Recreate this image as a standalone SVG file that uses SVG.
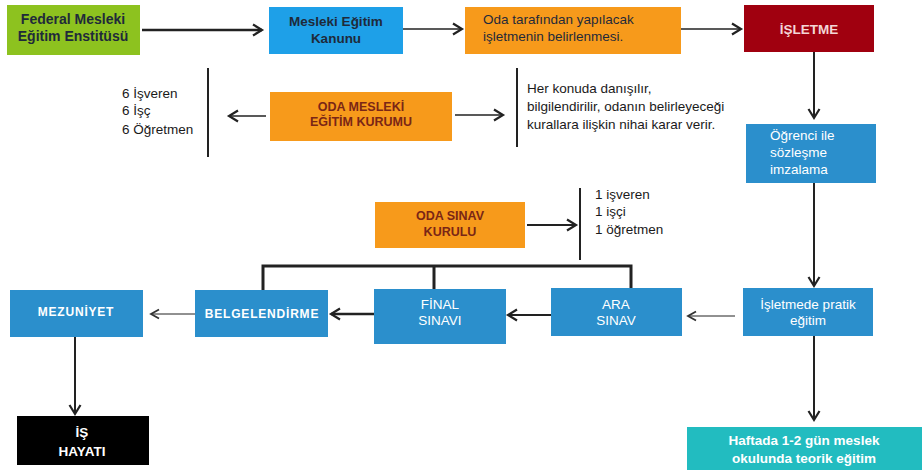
<svg xmlns="http://www.w3.org/2000/svg" width="923" height="476" viewBox="0 0 923 476">
<defs>
<marker id="ah" markerUnits="userSpaceOnUse" markerWidth="14" markerHeight="14" refX="10" refY="6" orient="auto" viewBox="0 0 14 12">
<path d="M1,0.5 L10,6 L1,11.5" fill="none" stroke="#222" stroke-width="2.2"/>
</marker>
<marker id="ahs" markerUnits="userSpaceOnUse" markerWidth="12" markerHeight="12" refX="9" refY="5" orient="auto" viewBox="0 0 12 10">
<path d="M1,0.5 L9,5 L1,9.5" fill="none" stroke="#333" stroke-width="1.8"/>
</marker>
</defs>
<style>
text{font-family:"Liberation Sans",Arial,sans-serif;}
.dk{fill:#1f2a3a;font-size:14px;font-weight:bold;}
.bx{fill:#1f2a3a;font-size:13.5px;}
.or{fill:#7a2616;font-size:12.5px;font-weight:bold;}
.wh{fill:#ffffff;font-size:13.5px;}
.whb{fill:#ffffff;font-size:12px;font-weight:bold;letter-spacing:0.8px;}
.pl{fill:#1a1a1a;font-size:13.5px;}
.c{text-anchor:middle;}
.ln{stroke:#222;fill:none;}
.blue{fill:#2b8fcc;}
.orange{fill:#f79a1b;}
</style>
<rect width="923" height="476" fill="#ffffff"/>

<g id="connectors">
<line class="ln" x1="142" y1="30" x2="262" y2="30" stroke-width="2.6" marker-end="url(#ah)"/>
<line class="ln" x1="403" y1="29" x2="462" y2="29" stroke-width="1.5" marker-end="url(#ah)"/>
<line class="ln" x1="681" y1="29" x2="741" y2="29" stroke-width="1.5" marker-end="url(#ah)"/>
<line class="ln" x1="814" y1="52" x2="814" y2="118" stroke-width="2" marker-end="url(#ah)"/>
<line class="ln" x1="814" y1="183" x2="814" y2="286" stroke-width="2" marker-end="url(#ah)"/>
<line class="ln" x1="814" y1="336" x2="814" y2="420" stroke-width="2" marker-end="url(#ah)"/>
<line class="ln" x1="735" y1="316" x2="688" y2="316" stroke-width="1" marker-end="url(#ahs)"/>
<line class="ln" x1="551" y1="315" x2="508" y2="315" stroke-width="2" marker-end="url(#ah)"/>
<line class="ln" x1="374" y1="314" x2="331" y2="314" stroke-width="2.6" marker-end="url(#ah)"/>
<line class="ln" x1="195" y1="314" x2="151" y2="314" stroke-width="1" marker-end="url(#ahs)"/>
<line class="ln" x1="75" y1="337" x2="75" y2="414" stroke-width="2" marker-end="url(#ah)"/>
<line class="ln" x1="266" y1="116" x2="229" y2="116" stroke-width="1.6" marker-end="url(#ah)"/>
<line class="ln" x1="455" y1="115" x2="503" y2="115" stroke-width="1.6" marker-end="url(#ah)"/>
<line class="ln" x1="527" y1="225" x2="576" y2="225" stroke-width="1.8" marker-end="url(#ah)"/>
<line class="ln" x1="208" y1="68" x2="208" y2="157" stroke="#444" stroke-width="2"/>
<line class="ln" x1="517" y1="68" x2="517" y2="147" stroke="#444" stroke-width="2"/>
<line class="ln" x1="580" y1="188" x2="580" y2="260" stroke="#444" stroke-width="2"/>
<path class="ln" d="M263,290 V266 H631 V289 M434,266 V289" stroke="#333" stroke-width="3"/>
</g>

<g id="federal">
<rect x="7" y="5" width="133" height="50" fill="#8dc21f"/>
<text class="dk c" x="73" y="24">Federal Mesleki</text>
<text class="dk c" x="73" y="41">Eğitim Enstitüsü</text>
</g>
<g id="kanun">
<rect x="269" y="7" width="134" height="47" fill="#1ea0e8"/>
<text class="bx c" x="336" y="26" font-weight="bold">Mesleki Eğitim</text>
<text class="bx c" x="336" y="43" font-weight="bold">Kanunu</text>
</g>
<g id="oda-taraf">
<rect x="465" y="7" width="216" height="47" class="orange"/>
<text class="bx" x="483" y="24" font-size="14">Oda tarafından yapılacak</text>
<text class="bx" x="483" y="41" font-size="14">işletmenin belirlenmesi.</text>
</g>
<g id="isletme">
<rect x="744" y="5" width="130" height="47" fill="#a0000f"/>
<text class="c" x="809" y="34" fill="#f3d6d6" font-size="13.5" font-weight="bold">İŞLETME</text>
</g>
<g id="ogrenci">
<rect x="746" y="124" width="130" height="59" class="blue"/>
<text class="wh" x="770" y="140">Öğrenci ile</text>
<text class="wh" x="770" y="157">sözleşme</text>
<text class="wh" x="770" y="174">imzalama</text>
</g>
<g id="oda-mesleki">
<rect x="270" y="92" width="182" height="49" class="orange"/>
<text class="or c" x="361" y="111">ODA MESLEKİ</text>
<text class="or c" x="361" y="126">EĞİTİM KURUMU</text>
</g>
<g id="uyeler6">
<text class="pl" x="122" y="98">6 İşveren</text>
<text class="pl" x="122" y="115">6 İşç</text>
<text class="pl" x="122" y="134">6 Öğretmen</text>
</g>
<g id="aciklama">
<text class="pl" x="527" y="93">Her konuda danışılır,</text>
<text class="pl" x="527" y="111">bilgilendirilir, odanın belirleyeceği</text>
<text class="pl" x="527" y="129">kurallara ilişkin nihai karar verir.</text>
</g>
<g id="oda-sinav">
<rect x="375" y="202" width="150" height="46" class="orange"/>
<text class="or c" x="450" y="220">ODA SINAV</text>
<text class="or c" x="450" y="236">KURULU</text>
</g>
<g id="uyeler1">
<text class="pl" x="595" y="199" font-size="12.5">1 işveren</text>
<text class="pl" x="595" y="216" font-size="12.5">1 işçi</text>
<text class="pl" x="595" y="234" font-size="12.5">1 öğretmen</text>
</g>
<g id="pratik">
<rect x="743" y="288" width="130" height="48" class="blue"/>
<text class="wh c" x="808" y="309">İşletmede pratik</text>
<text class="wh c" x="808" y="325">eğitim</text>
</g>
<g id="ara">
<rect x="551" y="288" width="131" height="48" class="blue"/>
<text class="wh c" x="616" y="309">ARA</text>
<text class="wh c" x="616" y="325">SINAV</text>
</g>
<g id="final">
<rect x="374" y="289" width="132" height="55" class="blue"/>
<text class="wh c" x="440" y="309">FİNAL</text>
<text class="wh c" x="440" y="325">SINAVI</text>
</g>
<g id="belge">
<rect x="195" y="290" width="133" height="47" class="blue"/>
<text class="whb c" x="262" y="318" font-size="11">BELGELENDİRME</text>
</g>
<g id="mezuniyet">
<rect x="10" y="290" width="133" height="47" class="blue"/>
<text class="whb c" x="76" y="316">MEZUNİYET</text>
</g>
<g id="is-hayati">
<rect x="17" y="416" width="132" height="49" fill="#000"/>
<text class="wh c" x="82" y="437" font-size="14.5" font-weight="bold">İŞ</text>
<text class="wh c" x="82" y="456" font-size="14.5" font-weight="bold">HAYATI</text>
</g>
<g id="haftada">
<rect x="687" y="427" width="235" height="43" fill="#22bcc0"/>
<text class="wh c" x="804" y="445" font-size="14" font-weight="bold">Haftada 1-2 gün  meslek</text>
<text class="wh c" x="804" y="463" font-size="14" font-weight="bold">okulunda teorik eğitim</text>
</g>
</svg>
